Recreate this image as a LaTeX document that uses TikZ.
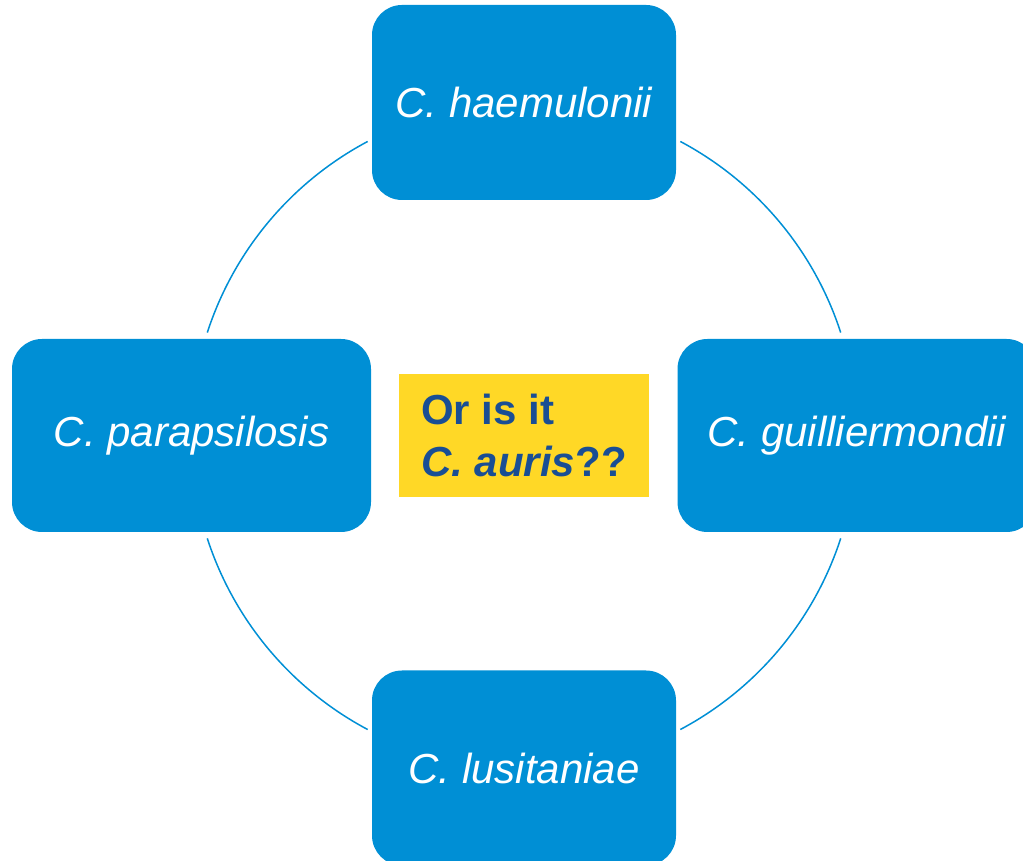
\documentclass[tikz,border=0pt]{standalone}
\usepackage{fontspec}
\setmainfont{Liberation Sans}
\usetikzlibrary{positioning}
\definecolor{speciesblue}{RGB}{0,143,213}
\definecolor{aurisyellow}{RGB}{255,216,38}
\definecolor{aurisblue}{RGB}{25,78,148}
\tikzset{%
	species/.style  = {fill=speciesblue, rounded corners=30pt, text=white, font=\fontsize{42}{50}\selectfont\itshape, text centered},
	question/.style = {fill=aurisyellow, text=aurisblue, font=\fontsize{42}{52}\selectfont\bfseries, align=left, minimum width=250pt, minimum height=123pt},
	ring/.style     = {speciesblue, line width=1.5pt},
}

\begin{document}
\begin{tikzpicture}[x=1pt,y=1pt]
	\clip (0,0) rectangle (1023,861);
	\coordinate (hub) at (524,425.5);
	
	\foreach \s/\e in {18/62,118/162,198/242,298/342} \draw[ring] ([shift={(hub)}]\s:333) arc[start angle=\s, end angle=\e, radius=333];
	
	\node[species, minimum width=304pt, minimum height=195pt] (haemulonii) at (524,758.5) {C. haemulonii};
	\node[species, minimum width=359pt, minimum height=193pt] (parapsilosis) at (191.5,425.5) {C. parapsilosis};
	\node[species, minimum width=359pt, minimum height=193pt] (guilliermondii) at (857,425.5) {C. guilliermondii};
	\node[species, minimum width=304pt, minimum height=195pt] (lusitaniae) at (524,93) {C. lusitaniae};
	
	\node[question] (auris) at (hub) {Or is it\\\textit{C. auris}??};
\end{tikzpicture}
\end{document}
